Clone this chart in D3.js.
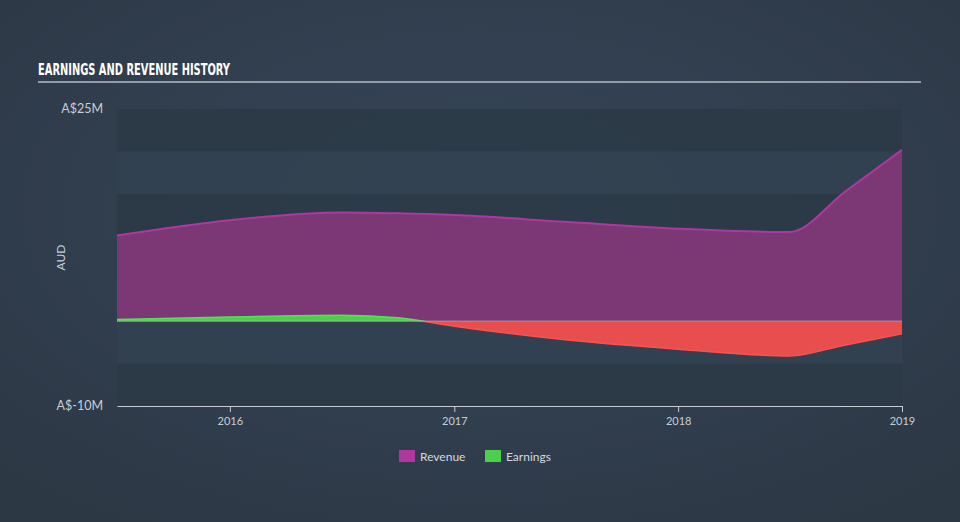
<!DOCTYPE html>
<html><head><meta charset="utf-8">
<script src="https://cdn.jsdelivr.net/npm/d3@7"></script>
<style>
html,body{margin:0;padding:0;background:#323f4e;}
svg{display:block;}
</style></head>
<body>
<svg id="chart" width="960" height="522"></svg>
<script>
const dates = ["2015-07-01","2016-01-01","2016-07-01","2016-10-01","2017-01-01","2017-07-01","2018-01-01","2018-07-01","2018-10-01","2019-01-01"];
const revenue = [10.1, 11.9, 12.8, 12.7, 12.5, 11.7, 10.9, 10.5, 15.3, 20.2];
const earnings = [0.2, 0.5, 0.7, 0.4, -0.6, -2.2, -3.3, -4.1, -2.8, -1.5];
const yTicks = [25, -10];
const xTickYears = ["2016","2017","2018","2019"];
const legendItems = ["Revenue","Earnings"];

const parse = d3.timeParse("%Y-%m-%d");
const data = dates.map((d,i)=>({date:parse(d), rev:revenue[i], earn:earnings[i]}));

const svg = d3.select("#chart");
const W=960,H=522;
const mLeft=117,mRight=902,mTop=109,mBottom=406;

const defs = svg.append("defs");
const bg = defs.append("radialGradient").attr("id","bg").attr("cx","50%").attr("cy","40%").attr("r","70%");
bg.append("stop").attr("offset","0%").attr("stop-color","#36465a");
bg.append("stop").attr("offset","100%").attr("stop-color","#2d3845");
svg.append("rect").attr("width",W).attr("height",H).attr("fill","url(#bg)");

const x = d3.scaleTime().domain([data[0].date, data[data.length-1].date]).range([mLeft,mRight]);
const y = d3.scaleLinear().domain([-10,25]).range([mBottom,mTop]);

// bands
const bandEdges = d3.range(-10,25,5);
svg.append("g").selectAll("rect").data(bandEdges).join("rect")
  .attr("x",mLeft).attr("width",mRight-mLeft)
  .attr("y",d=>y(d+5)).attr("height",d=>y(d)-y(d+5))
  .attr("fill",(d,i)=> (i%2===0) ? "#2c3947" : "#334251")
  .attr("opacity",0.85);

// title
svg.append("text").attr("x",38).attr("y",75)
  .attr("font-family","'DejaVu Sans Condensed','DejaVu Sans',sans-serif")
  .attr("font-stretch","condensed")
  .attr("font-weight","bold").attr("font-size",15).attr("fill","#ffffff")
  .attr("textLength",192).attr("lengthAdjust","spacingAndGlyphs")
  .text("EARNINGS AND REVENUE HISTORY");
svg.append("line").attr("x1",38).attr("x2",921).attr("y1",82).attr("y2",82)
  .attr("stroke","#b4bcc6").attr("stroke-width",1.5);

const curve = d3.curveMonotoneX;
// revenue
const revArea = d3.area().x(d=>x(d.date)).y0(y(0)).y1(d=>y(d.rev)).curve(curve);
const revLine = d3.line().x(d=>x(d.date)).y(d=>y(d.rev)).curve(curve);
svg.append("path").datum(data).attr("d",revArea).attr("fill","#7b3874");
svg.append("path").datum(data).attr("d",revLine).attr("fill","none").attr("stroke","#b0379f").attr("stroke-width",2);

// earnings
defs.append("clipPath").attr("id","pos").append("rect").attr("x",0).attr("y",0).attr("width",W).attr("height",y(0));
defs.append("clipPath").attr("id","neg").append("rect").attr("x",0).attr("y",y(0)).attr("width",W).attr("height",H-y(0));
const eArea = d3.area().x(d=>x(d.date)).y0(y(0)).y1(d=>y(d.earn)).curve(curve);
const eLine = d3.line().x(d=>x(d.date)).y(d=>y(d.earn)).curve(curve);
svg.append("path").datum(data).attr("d",eArea).attr("fill","#4cd04c").attr("clip-path","url(#pos)");
svg.append("path").datum(data).attr("d",eArea).attr("fill","#e84e4e").attr("clip-path","url(#neg)");
svg.append("path").datum(data).attr("d",eLine).attr("fill","none").attr("stroke","#58e058").attr("stroke-width",1.5).attr("clip-path","url(#pos)");
svg.append("path").datum(data).attr("d",eLine).attr("fill","none").attr("stroke","#ff5050").attr("stroke-width",1.5).attr("clip-path","url(#neg)");
// zero line
svg.append("line").attr("x1",mLeft).attr("x2",mRight).attr("y1",y(0)).attr("y2",y(0))
  .attr("stroke","#b8b8a8").attr("stroke-width",1).attr("opacity",0.8);

// x axis
const xAxis = d3.axisBottom(x)
  .tickValues(xTickYears.map(s=>parse(s+"-01-01")))
  .tickFormat(d3.timeFormat("%Y")).tickSize(6).tickSizeOuter(0);
const gx = svg.append("g").attr("transform",`translate(0,${mBottom})`).call(xAxis);
gx.select(".domain").attr("stroke","#c5ccd4");
gx.selectAll(".tick line").attr("stroke","#c5ccd4");
gx.selectAll(".tick text").attr("fill","#c8ced6").attr("font-family","Lato, 'Open Sans', sans-serif").attr("font-size",11).attr("dy","0.9em");

// y labels
svg.append("g").selectAll("text").data(yTicks).join("text")
  .attr("x",103).attr("y",d=>y(d)+4).attr("text-anchor","end")
  .attr("fill","#c8ced6").attr("font-family","Lato, 'Open Sans', sans-serif").attr("font-size",12.5)
  .text(d=> d<0 ? `A$-${Math.abs(d)}M` : `A$${d}M`);
svg.append("text").attr("transform",`translate(65,${(mTop+mBottom)/2}) rotate(-90)`)
  .attr("text-anchor","middle").attr("fill","#c8ced6")
  .attr("font-family","Lato, 'Open Sans', sans-serif").attr("font-size",12).text("AUD");

// legend
const legColors = ["#b0379f","#4cd04c"];
const legX = [399,485];
const lg = svg.append("g").selectAll("g").data(legendItems).join("g")
  .attr("transform",(d,i)=>`translate(${legX[i]},450)`);
lg.append("rect").attr("width",16).attr("height",12).attr("fill",(d,i)=>legColors[i]);
lg.append("text").attr("x",21).attr("y",10.5).attr("fill","#d4d9df")
  .attr("font-family","Lato, 'Open Sans', sans-serif").attr("font-size",12).text(d=>d);
</script>
</body></html>
